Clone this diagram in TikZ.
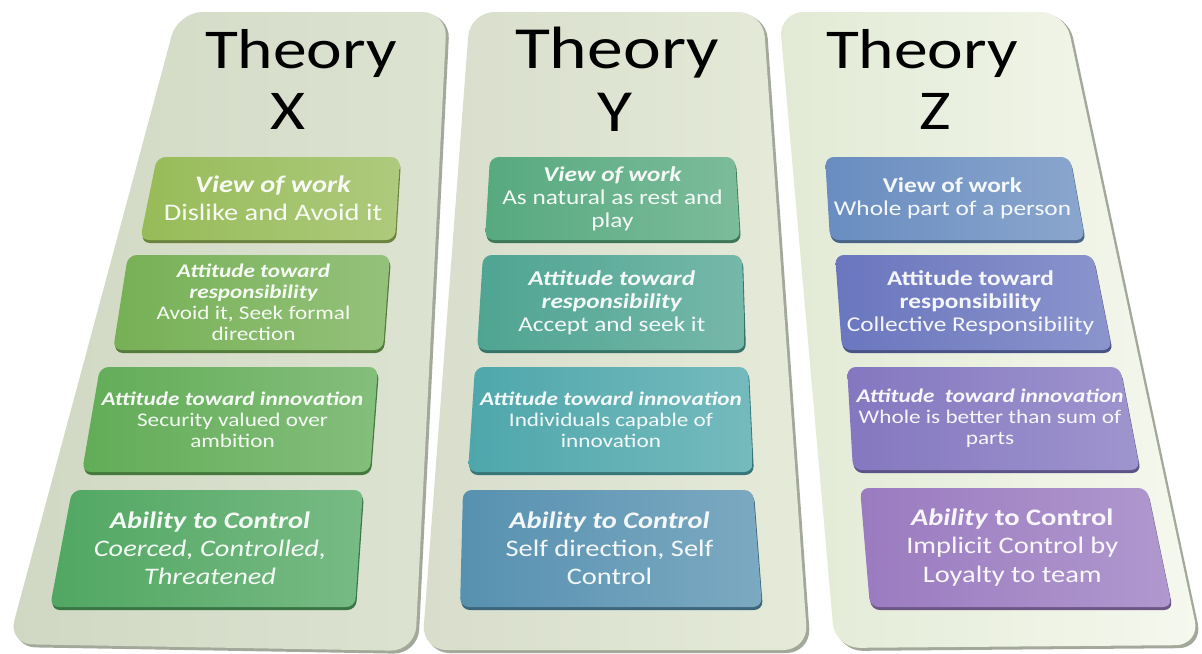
\documentclass[tikz,border=0pt]{standalone}
\usepackage{fontspec}
\setmainfont{Carlito}[FakeStretch=1.2]
\usetikzlibrary{calc}

\definecolor{panXl}{HTML}{D0D8C3}
\definecolor{panXr}{HTML}{DDE3D1}
\definecolor{panYl}{HTML}{D8DECB}
\definecolor{panYr}{HTML}{E5EAD9}
\definecolor{panZl}{HTML}{E2EAD5}
\definecolor{panZr}{HTML}{F5F8EE}
\definecolor{panshadow}{HTML}{A3A99A}
\definecolor{cX1}{HTML}{97BB58}
\definecolor{cX2}{HTML}{76B055}
\definecolor{cX3}{HTML}{62AC57}
\definecolor{cX4}{HTML}{51A762}
\definecolor{cY1}{HTML}{57A97F}
\definecolor{cY2}{HTML}{4FA492}
\definecolor{cY3}{HTML}{4EA7AB}
\definecolor{cY4}{HTML}{5791B0}
\definecolor{cZ1}{HTML}{698DC0}
\definecolor{cZ2}{HTML}{6A76BE}
\definecolor{cZ3}{HTML}{8477C0}
\definecolor{cZ4}{HTML}{9A7BC0}

\newcommand{\cardhead}[1]{{\bfseries\itshape #1}}

% #1 node options, #2 top, #3 bottom, #4-#7 corners (TL, BL, BR, TR), #8 colour, #9 text
\newcommand{\card}[9]{%
  \pgfmathsetmacro\cardx{(#4+#5+#6+#7)/4}
  \pgfmathsetmacro\cardy{(#2+#3)/2}
  \fill[#8!70!black, rounded corners=5pt] (#4+1,#2+3) -- (#5+1,#3+3) -- (#6+1,#3+3) -- (#7+1,#2+3) -- cycle;
  \shade[left color=#8, right color=#8!78!white, rounded corners=5pt] (#4,#2) -- (#5,#3) -- (#6,#3) -- (#7,#2) -- cycle;
  \node[cardtext, #1] at (\cardx,\cardy) {#9};
}

\tikzset{
  cardtext/.style={text=white, text opacity=.93, align=center, inner sep=0pt},
  title/.style={anchor=base, text=black, inner sep=1pt, font=\fontsize{32}{36}\selectfont},
  bigtitle/.style={title, font=\fontsize{34}{38}\selectfont},
  fsmall/.style={font=\fontsize{11}{12}\selectfont},
  fmid/.style={font=\fontsize{12}{13}\selectfont},
  flarge/.style={font=\fontsize{13.5}{16}\selectfont},
}

\begin{document}
\begin{tikzpicture}[x=0.02cm, y=-0.02cm]
\useasboundingbox (0,0) rectangle (1202,653);

% panels
\fill[panshadow, rounded corners=14pt] (181,14) -- (11,647) -- (418,654) -- (450,14) -- cycle;
\shade[left color=panXl, right color=panXr, rounded corners=14pt] (178,12) -- (8,644) -- (415,651) -- (447,12) -- cycle;
\fill[panshadow, rounded corners=14pt] (473,14) -- (425,653) -- (811,653) -- (766,14) -- cycle;
\shade[left color=panYl, right color=panYr, rounded corners=14pt] (470,12) -- (422,650) -- (808,650) -- (763,12) -- cycle;
\fill[panshadow, rounded corners=14pt] (782,14) -- (838,651) -- (1203,648) -- (1068,14) -- cycle;
\shade[left color=panZl, right color=panZr, rounded corners=14pt] (779,12) -- (835,648) -- (1200,645) -- (1065,12) -- cycle;

% titles
\node[title] (thx) at (301,68) {Theory};
\node[title] (ltx) at (288,129) {X};
\node[bigtitle] (thy) at (617,68) {Theory};
\node[bigtitle] (lty) at (615,131) {Y};
\node[title] (thz) at (922,68) {Theory};
\node[title] (ltz) at (935,129) {Z};

% theory X
\card{name=x1, flarge}{157}{240}{157}{140}{395}{400}{cX1}{\cardhead{View of work}\\Dislike and Avoid it}
\card{name=x2, fsmall}{255}{350}{128}{113}{383}{390}{cX2}{\cardhead{Attitude toward}\\\cardhead{responsibility}\\Avoid it, Seek formal\\direction}
\card{name=x3, fsmall}{367}{472}{100}{82}{370}{378}{cX3}{\cardhead{Attitude toward innovation}\\Security valued over\\ambition}
\card{name=x4, flarge}{490}{607}{72}{50}{355}{363}{cX4}{\cardhead{Ability to Control}\\\textit{Coerced, Controlled,}\\\textit{Threatened}}

% theory Y
\card{name=y1, fmid}{157}{240}{490}{485}{740}{735}{cY1}{\cardhead{View of work}\\As natural as rest and\\play}
\card{name=y2, fmid}{255}{350}{483}{477}{745}{742}{cY2}{\cardhead{Attitude toward}\\\cardhead{responsibility}\\Accept and seek it}
\card{name=y3, fsmall}{367}{472}{475}{468}{753}{748}{cY3}{\cardhead{Attitude toward innovation}\\Individuals capable of\\innovation}
\card{name=y4, flarge}{490}{607}{463}{460}{762}{753}{cY4}{\cardhead{Ability to Control}\\Self direction, Self\\Control}

% theory Z
\card{name=z1, fmid}{157}{240}{825}{830}{1085}{1070}{cZ1}{\textbf{View of work}\\Whole part of a person}
\card{name=z2, fmid}{255}{350}{835}{842}{1112}{1093}{cZ2}{\textbf{Attitude toward}\\\textbf{responsibility}\\Collective Responsibility}
\card{name=z3, fsmall}{367}{470}{847}{853}{1140}{1120}{cZ3}{\cardhead{Attitude~ toward innovation}\\Whole is better than sum of\\parts}
\card{name=z4, flarge}{488}{607}{860}{870}{1172}{1147}{cZ4}{\cardhead{Ability} \textbf{to Control}\\Implicit Control by\\Loyalty to team}
\end{tikzpicture}
\end{document}
